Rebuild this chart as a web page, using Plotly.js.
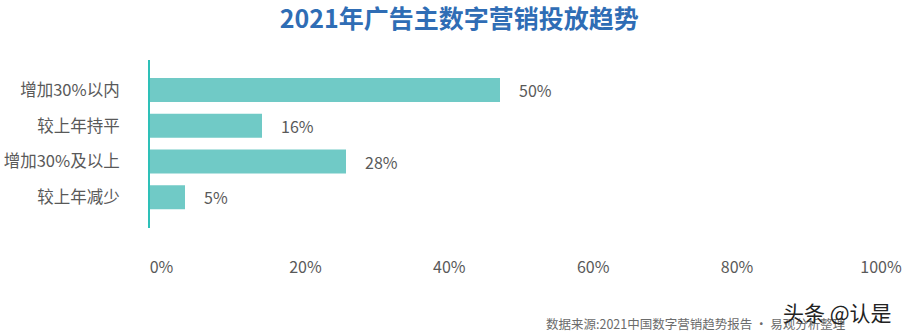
<!DOCTYPE html>
<html>
<head>
<meta charset="utf-8">
<script src="https://cdn.plot.ly/plotly-3.0.1.min.js"></script>
<style>html,body{margin:0;padding:0;background:#fff;}#chart{width:906px;height:335px;}</style>
</head>
<body>
<div id="chart"></div>
<script>
// Data
const categories = ['增加30%以内', '较上年持平', '增加30%及以上', '较上年减少'];
const values = [50, 16, 28, 5];
const valueLabels = ['50%', '16%', '28%', '5%'];
const tickValues = [0, 20, 40, 60, 80, 100];
const tickLabels = ['0%', '20%', '40%', '60%', '80%', '100%'];

const FONT = '"Noto Sans CJK SC", "Noto Sans", sans-serif';
const GRAY = '#595959';

const barTrace = {
  type: 'bar',
  orientation: 'h',
  x: values,
  y: categories,
  marker: {color: '#70CAC6'},
  hoverinfo: 'none'
};

// carrier trace so the percent tick axis is drawn
const tickTrace = {
  type: 'scatter', mode: 'markers',
  x: [tickValues[0]], y: [categories[0]],
  xaxis: 'x2', yaxis: 'y',
  marker: {opacity: 0, size: 1},
  hoverinfo: 'none'
};

const annotations = values.map((v, i) => ({
  x: v, y: categories[i], xref: 'x', yref: 'y',
  text: valueLabels[i], showarrow: false,
  xanchor: 'left', yanchor: 'middle', xshift: 17,
  font: {family: FONT, size: 16, color: GRAY}
}));

// plot area spans pixels 150..900 horizontally, 60..228 vertically
annotations.push({
  xref: 'paper', yref: 'paper',
  x: (848 - 150) / 750, y: -(323 - 228) / 168,
  xanchor: 'right', yanchor: 'middle',
  text: '数据来源:2021中国数字营销趋势报告 · 易观分析整理',
  showarrow: false,
  font: {family: FONT, size: 12.5, color: '#6b6b6b'}
});
annotations.push({
  xref: 'paper', yref: 'paper',
  x: (894 - 150) / 750, y: -(312 - 228) / 168,
  xanchor: 'right', yanchor: 'middle',
  text: '头条 @认是',
  showarrow: false,
  font: {family: FONT, size: 21, color: '#222222'}
});

const layout = {
  width: 906, height: 335,
  margin: {l: 150, r: 6, t: 60, b: 107},
  paper_bgcolor: '#ffffff',
  plot_bgcolor: '#ffffff',
  showlegend: false,
  bargap: 0.33,
  title: {
    text: '<b>2021年广告主数字营销投放趋势</b>',
    font: {family: FONT, size: 25, color: '#2F6DB5'},
    x: 0.507, xanchor: 'center',
    yref: 'container', y: 1 - 19 / 335, yanchor: 'middle'
  },
  xaxis: {
    range: [0, 750 / 7],
    showgrid: false, zeroline: false, showline: false,
    showticklabels: false, ticks: ''
  },
  xaxis2: {
    overlaying: 'x', anchor: 'y', side: 'bottom',
    range: [-1.6, 102.64],
    tickmode: 'array', tickvals: tickValues, ticktext: tickLabels,
    showgrid: false, zeroline: false, showline: false, ticks: '',
    ticklabelstandoff: 28,
    tickfont: {family: FONT, size: 16, color: GRAY}
  },
  yaxis: {
    type: 'category',
    categoryorder: 'array', categoryarray: categories,
    range: [3.86, -0.84],
    showgrid: false, zeroline: false,
    showline: true, linecolor: '#2EC0B8', linewidth: 2,
    ticks: '', ticklabelstandoff: 25,
    tickfont: {family: FONT, size: 16.5, color: GRAY}
  },
  annotations: annotations
};

Plotly.newPlot('chart', [barTrace, tickTrace], layout, {displayModeBar: false, staticPlot: true});
</script>
</body>
</html>
